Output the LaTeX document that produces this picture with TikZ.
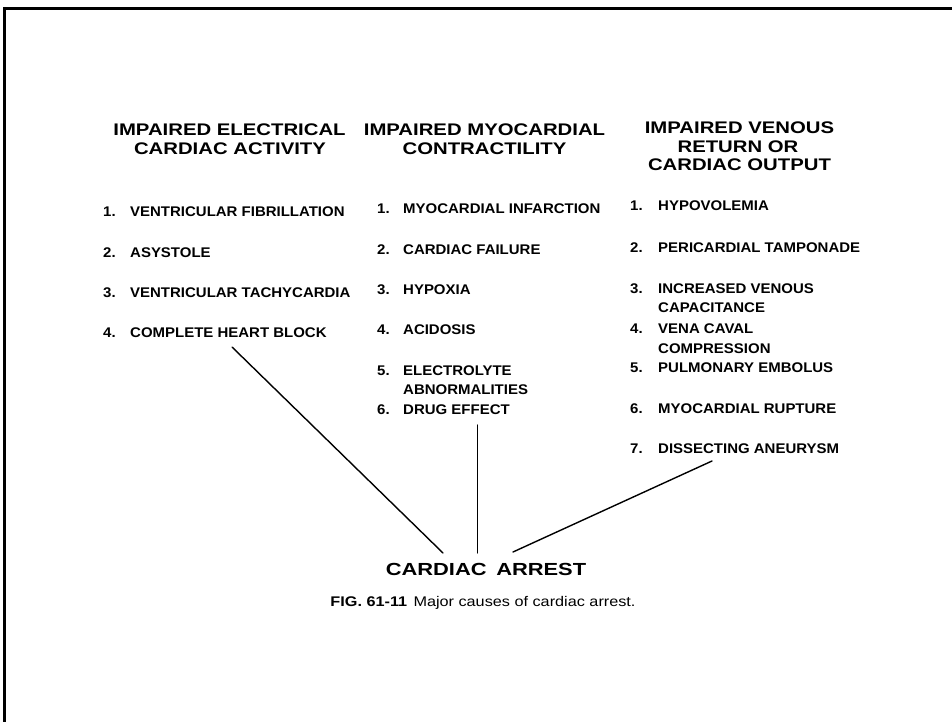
\documentclass[tikz,border=0pt]{standalone}
\usepackage{fontspec}
\setmainfont{Liberation Sans}
\newfontfamily\headfam[FakeStretch=1.21]{Liberation Sans}
\newfontfamily\itemfam[FakeStretch=1.07]{Liberation Sans}
\newfontfamily\arrestfam[FakeStretch=1.25]{Liberation Sans}
\newfontfamily\capfam[FakeStretch=1.16]{Liberation Sans}
\newcommand{\numA}[1]{\makebox[27bp][l]{#1}}
\newcommand{\numB}[1]{\makebox[26bp][l]{#1}}
\newcommand{\numC}[1]{\makebox[28bp][l]{#1}}
\begin{document}
\begin{tikzpicture}[x=1bp,y=-1bp,
  heading/.style={font=\headfam\bfseries\fontsize{16.8bp}{18.5bp}\selectfont, inner sep=0pt, anchor=base},
  item/.style={font=\itemfam\bfseries\fontsize{14bp}{16bp}\selectfont, inner sep=0pt, anchor=base west},
  connector/.style={line width=1.4bp, line cap=round},
  frameline/.style={black, line width=2.6bp}]
\useasboundingbox[fill=white] (0,0) rectangle (952,722);
% frame (cropped at right and bottom)
\draw[frameline] (4.5,722) -- (4.5,8.5) -- (952,8.5);

% headings
\node[heading] (h1a) at (229.5,136) {IMPAIRED ELECTRICAL};
\node[heading] (h1b) at (230,154.5) {CARDIAC ACTIVITY};
\node[heading] (h2a) at (484.5,136) {IMPAIRED MYOCARDIAL};
\node[heading] (h2b) at (484.5,154.5) {CONTRACTILITY};
\node[heading] (h3a) at (739.5,134) {IMPAIRED VENOUS};
\node[heading] (h3b) at (738,152.5) {RETURN OR};
\node[heading] (h3c) at (739.5,171) {CARDIAC OUTPUT};

% column 1
\node[item] (c11) at (103,216.5) {\numA{1.}VENTRICULAR FIBRILLATION};
\node[item] (c12) at (103,257) {\numA{2.}ASYSTOLE};
\node[item] (c13) at (103,297) {\numA{3.}VENTRICULAR TACHYCARDIA};
\node[item] (c14) at (103,337) {\numA{4.}COMPLETE HEART BLOCK};

% column 2
\node[item] (c21) at (377,213) {\numB{1.}MYOCARDIAL INFARCTION};
\node[item] (c22) at (377,254) {\numB{2.}CARDIAC FAILURE};
\node[item] (c23) at (377,294) {\numB{3.}HYPOXIA};
\node[item] (c24) at (377,334.5) {\numB{4.}ACIDOSIS};
\node[item] (c25) at (377,375) {\numB{5.}ELECTROLYTE};
\node[item] (c25b) at (403,394) {ABNORMALITIES};
\node[item] (c26) at (377,414.5) {\numB{6.}DRUG EFFECT};

% column 3
\node[item] (c31) at (630,210) {\numC{1.}HYPOVOLEMIA};
\node[item] (c32) at (630,252) {\numC{2.}PERICARDIAL TAMPONADE};
\node[item] (c33) at (630,293) {\numC{3.}INCREASED VENOUS};
\node[item] (c33b) at (658,312) {CAPACITANCE};
\node[item] (c34) at (630,333) {\numC{4.}VENA CAVAL};
\node[item] (c34b) at (658,353) {COMPRESSION};
\node[item] (c35) at (630,372) {\numC{5.}PULMONARY EMBOLUS};
\node[item] (c36) at (630,413) {\numC{6.}MYOCARDIAL RUPTURE};
\node[item] (c37) at (630,453) {\numC{7.}DISSECTING ANEURYSM};

% result
\node[font=\arrestfam\bfseries\fontsize{17.5bp}{20bp}\selectfont, inner sep=0pt, anchor=base] (arrest) at (486,575.5) {CARDIAC\hspace{0.55em}ARREST};
\node[font=\capfam\fontsize{14bp}{16bp}\selectfont, inner sep=0pt, anchor=base] (caption) at (483,606) {\textbf{FIG. 61-11}\hspace{0.45em}Major causes of cardiac arrest.};

% connectors
\coordinate (l1top) at (232,347);
\coordinate (l1bot) at (443,553);
\coordinate (l2top) at (477.5,425);
\coordinate (l2bot) at (477.5,553);
\coordinate (l3top) at (712,461);
\coordinate (l3bot) at (513,552);
\draw[connector] (l1top) -- (l1bot);
\draw[connector] (l2top) -- (l2bot);
\draw[connector] (l3top) -- (l3bot);
\end{tikzpicture}
\end{document}
